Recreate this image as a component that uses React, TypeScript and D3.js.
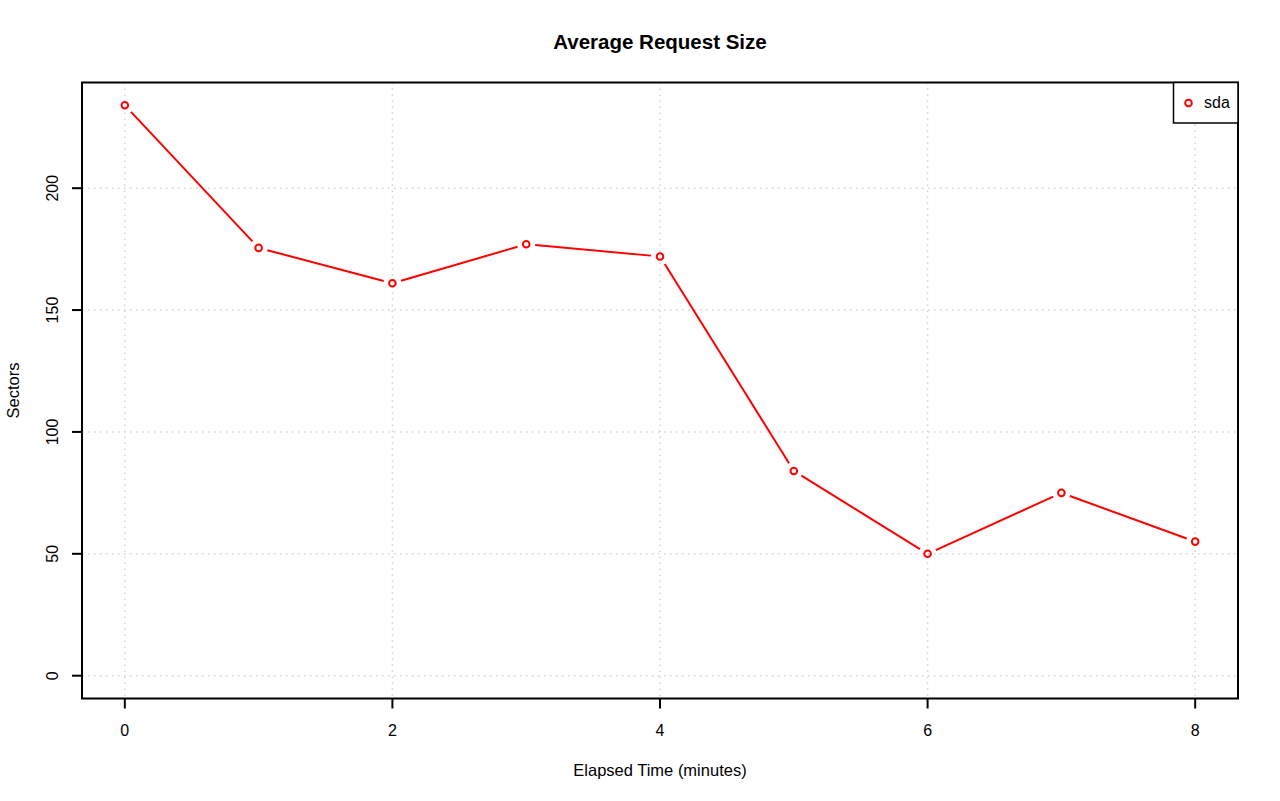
import React from "react";
import * as d3 from "d3";

const minutes = [0, 1, 2, 3, 4, 5, 6, 7, 8];
const sectors = [234, 175.5, 161, 177, 172, 84, 50, 75, 55];
const xTicks = [0, 2, 4, 6, 8];
const yTicks = [0, 50, 100, 150, 200];
const seriesName = "sda";

export default function App() {
  const W = 1280, H = 801;
  const L = 82, R = 1238, T = 82.5, B = 698.5;
  const x = d3.scaleLinear().domain([-0.32, 8.32]).range([L, R]);
  const ymax = 234;
  const pad = ymax * 0.04;
  const y = d3.scaleLinear().domain([-pad, ymax + pad]).range([B, T]);
  const font = "Liberation Sans, Arial, Helvetica, sans-serif";
  const gap = 9;
  const pts = minutes.map((m, i) => [x(m), y(sectors[i])]);
  const segs = [];
  for (let i = 0; i < pts.length - 1; i++) {
    const [x1, y1] = pts[i];
    const [x2, y2] = pts[i + 1];
    const dx = x2 - x1, dy = y2 - y1;
    const len = Math.hypot(dx, dy);
    if (len <= 2 * gap) continue;
    const ux = dx / len, uy = dy / len;
    segs.push([x1 + ux * gap, y1 + uy * gap, x2 - ux * gap, y2 - uy * gap]);
  }
  return (
    <svg width={W} height={H} style={{ position: "absolute", left: 0, top: 0 }} fontFamily={font}>
      <rect width={W} height={H} fill="white" />
      {xTicks.map((t) => (
        <line key={"gx" + t} x1={x(t)} x2={x(t)} y1={T} y2={B} stroke="#d3d3d3" strokeDasharray="1.5,4.5" strokeWidth={1.5} />
      ))}
      {yTicks.map((t) => (
        <line key={"gy" + t} x1={L} x2={R} y1={y(t)} y2={y(t)} stroke="#d3d3d3" strokeDasharray="1.5,4.5" strokeWidth={1.5} />
      ))}
      {segs.map((s, i) => (
        <line key={"s" + i} x1={s[0]} y1={s[1]} x2={s[2]} y2={s[3]} stroke="red" strokeWidth={2} />
      ))}
      {pts.map((p, i) => (
        <circle key={"p" + i} cx={p[0]} cy={p[1]} r={3.3} fill="none" stroke="red" strokeWidth={2} />
      ))}
      <rect x={L} y={T} width={R - L} height={B - T} fill="none" stroke="black" strokeWidth={2} />
      {xTicks.map((t) => (
        <g key={"xt" + t}>
          <line x1={x(t)} x2={x(t)} y1={B} y2={B + 10} stroke="black" strokeWidth={2} />
          <text x={x(t)} y={736} textAnchor="middle" fontSize={16}>{t}</text>
        </g>
      ))}
      {yTicks.map((t) => (
        <g key={"yt" + t}>
          <line x1={L - 10} x2={L} y1={y(t)} y2={y(t)} stroke="black" strokeWidth={2} />
          <text transform={`translate(58,${y(t)}) rotate(-90)`} textAnchor="middle" fontSize={16}>{t}</text>
        </g>
      ))}
      <text x={(L + R) / 2} y={49} textAnchor="middle" fontSize={20.5} fontWeight="bold">Average Request Size</text>
      <text x={(L + R) / 2} y={776} textAnchor="middle" fontSize={16.5}>Elapsed Time (minutes)</text>
      <text transform={`translate(19,${(T + B) / 2}) rotate(-90)`} textAnchor="middle" fontSize={16.5}>Sectors</text>
      <rect x={1173.5} y={T} width={R - 1173.5} height={123 - T} fill="white" stroke="black" strokeWidth={1.5} />
      <circle cx={1188.5} cy={103} r={3.3} fill="none" stroke="red" strokeWidth={2} />
      <text x={1204} y={108} fontSize={16}>{seriesName}</text>
    </svg>
  );
}
